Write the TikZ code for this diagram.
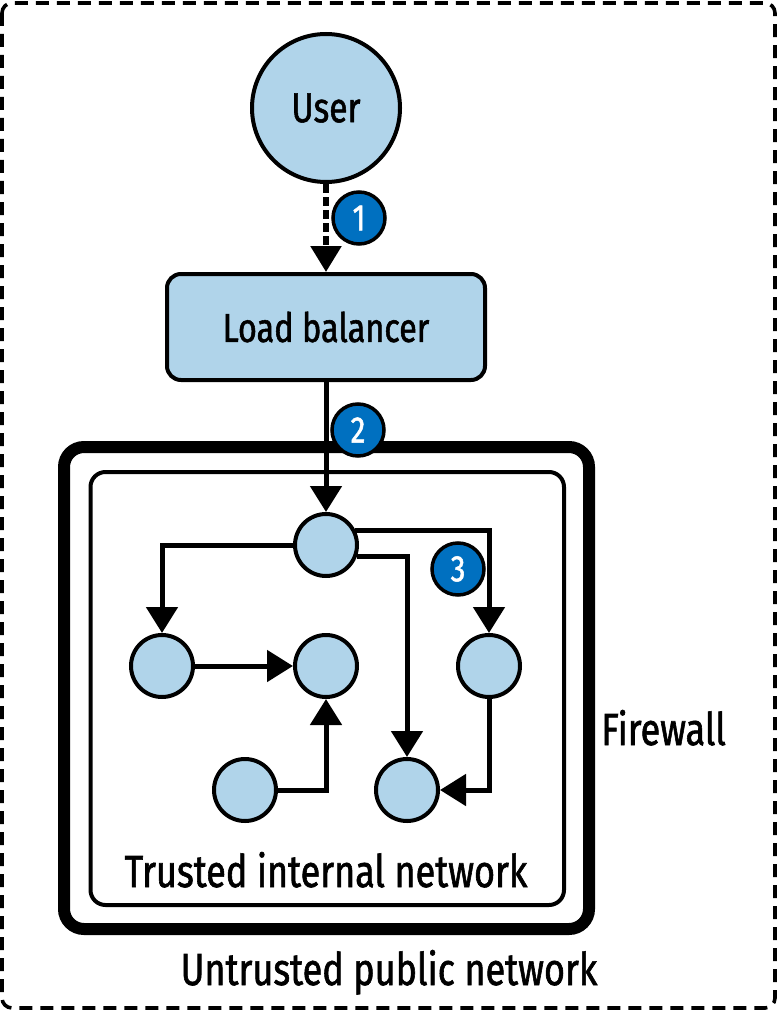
\documentclass[tikz,border=0pt]{standalone}
\usepackage{fontspec}
\setmainfont{Fira Sans}[FakeStretch=0.80,FakeBold=1.3]
\usetikzlibrary{arrows.meta}
\definecolor{nodeblue}{RGB}{176,212,234}
\definecolor{badgeblue}{RGB}{0,112,192}
\begin{document}
\begin{tikzpicture}[x=1pt,y=-1pt,
  svc/.style={circle,draw,line width=4pt,fill=nodeblue,minimum size=62pt,inner sep=0pt},
  badge/.style={circle,draw,line width=3.5pt,fill=badgeblue,minimum size=52pt,inner sep=0pt,text=white,font=\fontsize{37}{37}\selectfont},
  flow/.style={line width=5pt,-{Triangle[length=26pt,width=31pt]}},
  big/.style={font=\fontsize{45}{45}\selectfont,inner sep=0pt},
  boxlbl/.style={font=\fontsize{42}{42}\selectfont}
]
\useasboundingbox (0,0) rectangle (777,1011);
% outer untrusted area
\draw[line width=3.6pt,dash pattern=on 13pt off 8pt,rounded corners=10pt] (2,3) rectangle (775,1008);
% firewall
\draw[line width=12pt,rounded corners=20pt] (64,447) rectangle (589,929);
% trusted network
\draw[line width=4pt,rounded corners=15pt] (90.5,472) rectangle (564,905);

% nodes
\node[svc,minimum size=148pt,boxlbl] (user) at (326,108) {User};
\node[draw,line width=4pt,fill=nodeblue,rounded corners=14pt,minimum width=318pt,minimum height=106pt,font=\fontsize{40.5}{40.5}\selectfont] (lb) at (326,327) {Load balancer};

\node[svc] (A) at (326,545) {};
\node[svc] (B) at (162,666) {};
\node[svc] (C) at (326,666) {};
\node[svc] (D) at (489,666) {};
\node[svc] (E) at (245,790) {};
\node[svc] (F) at (407,790) {};

% connectors
\draw[line width=5.5pt,dash pattern=on 9pt off 4pt,-{Triangle[length=26pt,width=30pt]}] (user) -- (lb);
\draw[flow] (lb) -- (A);
\draw[flow] (A.west) -| (B.north);
\draw[flow] (A.27) -| (D.north);
\draw[flow] (A.-21) -| (F.north);
\draw[flow] (B) -- (C);
\draw[flow] (E.east) -| (C.south);
\draw[flow] (D.south) |- (F.east);

% badges
\node[badge] (b1) at (359,218) {1};
\node[badge] (b2) at (358,430) {2};
\node[badge] (b3) at (458,569) {3};

% labels
\node[big,anchor=base] (trusted) at (326,887) {Trusted internal network};
\node[big,anchor=base] (untrusted) at (389,985) {Untrusted public network};
\node[big,anchor=base west] (firewall) at (601,745) {Firewall};
\end{tikzpicture}
\end{document}
